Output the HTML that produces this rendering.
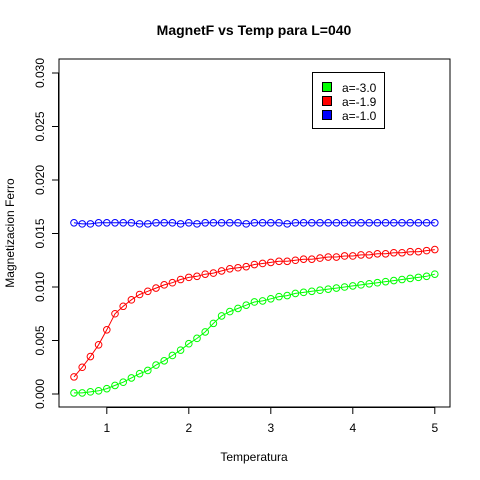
<!DOCTYPE html>
<html><head><meta charset="utf-8"><style>
body{margin:0;background:#fff}
svg{display:block;font-family:"Liberation Sans",Arial,sans-serif}
</style></head><body>
<svg id="chart" width="480" height="480" viewBox="0 0 480 480">
<rect width="480" height="480" fill="#fff"/>
<text x="254" y="35" text-anchor="middle" font-size="14" font-weight="bold">MagnetF vs Temp para L=040</text>
<rect x="59" y="59" width="391" height="348" fill="none" stroke="#000"/>
<g id="xaxis"></g>
<g id="yaxis"></g>
<text x="254" y="461" text-anchor="middle" font-size="12">Temperatura</text>
<text transform="translate(14,233) rotate(-90)" text-anchor="middle" font-size="12">Magnetizacion Ferro</text>
<g id="series"></g>
<g>
<rect x="312.5" y="72.5" width="72" height="56" fill="#fff" stroke="#000"/>
<g><rect x="322.5" y="82.5" width="9" height="9" fill="#00ff00" stroke="#000"/><text x="342" y="92" font-size="12">a=-3.0</text></g>
<g><rect x="322.5" y="96.5" width="9" height="9" fill="#ff0000" stroke="#000"/><text x="342" y="106" font-size="12">a=-1.9</text></g>
<g><rect x="322.5" y="110.5" width="9" height="9" fill="#0000ff" stroke="#000"/><text x="342" y="120" font-size="12">a=-1.0</text></g>
</g>
</svg>
<script>
const temps = [];
for (let i = 0; i <= 44; i++) temps.push(+(0.6 + i * 0.1).toFixed(1));
const greenVals = [0.0001,0.0001,0.0002,0.0003,0.0005,0.0008,0.0011,0.0015,0.0019,0.0022,0.0027,0.0031,0.0036,0.0041,0.0047,0.0052,0.0058,0.0066,0.0073,0.0077,0.0080,0.0083,0.0086,
0.0087,0.0089,0.0091,0.0092,0.0094,0.0095,0.0096,0.0097,0.0098,0.0099,0.0100,0.0101,0.0102,0.0103,0.0104,0.0105,0.0106,0.0107,0.0108,0.0109,0.0110,0.0112];
const redVals = [0.0016,0.0025,0.0035,0.0046,0.0060,0.0075,0.0082,0.0088,0.0093,0.0096,0.0099,0.0102,0.0104,0.0107,0.0109,0.0110,0.0112,0.0113,0.0115,0.0117,0.0118,0.0119,0.0121,
0.0122,0.0123,0.0124,0.0124,0.0125,0.0126,0.0126,0.0127,0.0128,0.0128,0.0129,0.0129,0.0130,0.0130,0.0131,0.0131,0.0132,0.0132,0.0133,0.0133,0.0134,0.0135];
const blueVals = [0.0160,0.0159,0.0159,0.0160,0.0160,0.0160,0.0160,0.0160,0.0159,0.0159,0.0160,0.0160,0.0160,0.0159,0.0160,0.0159,0.0160,0.0160,0.0160,0.0160,0.0160,0.0159,0.0160,
0.0160,0.0160,0.0160,0.0159,0.0160,0.0160,0.0160,0.0160,0.0160,0.0160,0.0160,0.0160,0.0160,0.0160,0.0160,0.0160,0.0160,0.0160,0.0160,0.0160,0.0160,0.0160];
const xTicks = [1,2,3,4,5];
const yTicks = [0,0.005,0.010,0.015,0.020,0.025,0.030];
const yTickLabels = ["0.000","0.005","0.010","0.015","0.020","0.025","0.030"];

const NS = "http://www.w3.org/2000/svg";
function X(v){ return 74 + (v - 0.6) * 82; }
function Y(v){ return 394 - v * 10700; }
function mk(tag, attrs, parent){ const e = document.createElementNS(NS, tag); for (const k in attrs) e.setAttribute(k, attrs[k]); parent.appendChild(e); return e; }

const xa = document.getElementById('xaxis');
mk('line', {x1:X(1), x2:X(5), y1:407.5, y2:407.5, stroke:'#000'}, xa);
xTicks.forEach(t => {
  mk('line', {x1:X(t), x2:X(t), y1:407, y2:414, stroke:'#000'}, xa);
  const tx = mk('text', {x:X(t), y:432, 'text-anchor':'middle', 'font-size':12}, xa);
  tx.textContent = t;
  
  
});
const ya = document.getElementById('yaxis');
mk('line', {x1:58.5, x2:58.5, y1:Y(0), y2:Y(0.03), stroke:'#000'}, ya);
yTicks.forEach((t, i) => {
  mk('line', {x1:52, x2:59, y1:Y(t), y2:Y(t), stroke:'#000'}, ya);
  const tx = mk('text', {transform:`translate(44,${Y(t)}) rotate(-90)`, 'text-anchor':'middle', 'font-size':12}, ya);
  tx.textContent = yTickLabels[i];
  
  
});

const sg = document.getElementById('series');
[[greenVals,'#00ff00','green'],[redVals,'#ff0000','red'],[blueVals,'#0000ff','blue']].forEach(([vals,col,nm]) => {
  const g = mk('g', {}, sg);
  
  
  const pts = vals.map((v,i) => X(temps[i]).toFixed(1) + ',' + Y(v).toFixed(1)).join(' ');
  const pl = mk('polyline', {points:pts, fill:'none', stroke:col, 'stroke-width':1}, g);
  
  
  vals.forEach((v,i) => {
    const c = mk('circle', {cx:X(temps[i]), cy:Y(v), r:3.3, fill:'none', stroke:col, 'stroke-width':1}, g);
    
    
  });
});
</script>
</body></html>
